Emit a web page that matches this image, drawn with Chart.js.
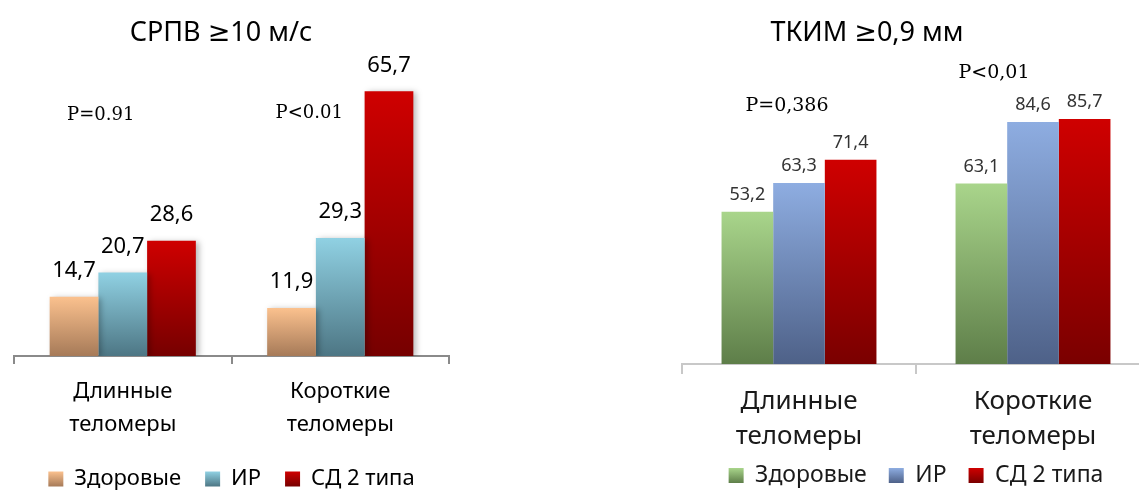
<!DOCTYPE html>
<html lang="ru">
<head>
<meta charset="utf-8">
<script src="https://cdn.jsdelivr.net/npm/chart.js@4.4.0/dist/chart.umd.min.js"></script>
<style>
  html, body { margin: 0; padding: 0; background: #fff; overflow: hidden; width: 1139px; height: 490px; }
  #leftBox { position: absolute; left: 0; top: 0; width: 450px; height: 500px; }
  #rightBox { position: absolute; left: 640px; top: 0; width: 520px; height: 497px; }
</style>
</head>
<body>
<div id="leftBox"><canvas id="pwvCanvas"></canvas></div>
<div id="rightBox"><canvas id="cimtCanvas"></canvas></div>
<script>
// categories & series
var categories = [['Длинные', 'теломеры'], ['Короткие', 'теломеры']];
var seriesNames = ['Здоровые', 'ИР', 'СД 2 типа'];

// СРПВ >=10 м/с (%)
var pwvHealthy = [14.7, 11.9];
var pwvIR = [20.7, 29.3];
var pwvDiabetes = [28.6, 65.7];
var pwvPValues = ['P=0.91', 'P<0.01'];

// ТКИМ >=0,9 мм (%)
var cimtHealthy = [53.2, 63.1];
var cimtIR = [63.3, 84.6];
var cimtDiabetes = [71.4, 85.7];
var cimtPValues = ['P=0,386', 'P<0,01'];

var sansFont = '"Noto Sans", "DejaVu Sans", sans-serif';
var serifFont = '"DejaVu Serif", "Liberation Serif", serif';

// vertical gradient per bar, light on top, dark at the base
var barGradient = function (top, bottom, mid) {
	return function (c) {
		var chart = c.chart;
		if (c.type !== 'data' || !chart.chartArea || c.raw == null) return mid;
		var y = chart.scales.y;
		var g = chart.ctx.createLinearGradient(0, y.getPixelForValue(c.raw), 0, y.getPixelForValue(0));
		g.addColorStop(0, top);
		g.addColorStop(1, bottom);
		return g;
	};
};

// title, category names, value labels over the bars, P annotations
var barTexts = {
	id: 'barTexts',
	beforeDraw: function (chart, args, opts) {
		// same light-to-dark fill for the legend squares
		var lg = chart.legend;
		if (!lg || !lg.legendItems) return;
		var lab = lg.options.labels;
		var y0 = lg.top + lab.padding + (lab.font.size - lab.boxHeight) / 2;
		lg.legendItems.forEach(function (it, i) {
			var g = chart.ctx.createLinearGradient(0, y0, 0, y0 + lab.boxHeight);
			g.addColorStop(0, opts.colors[i][0]);
			g.addColorStop(1, opts.colors[i][1]);
			it.fillStyle = g;
			it.lineWidth = 0;
			it.strokeStyle = 'rgba(0,0,0,0)';
		});
	},
	beforeDatasetsDraw: function (chart, args, opts) {
		var ctx = chart.ctx;
		ctx.save();
		if (opts.shadow) {
			ctx.shadowColor = 'rgba(0,0,0,0.28)';
			ctx.shadowBlur = 6;
			ctx.shadowOffsetX = 3;
			ctx.shadowOffsetY = 1;
		}
	},
	afterDatasetsDraw: function (chart, args, opts) {
		var ctx = chart.ctx;
		var xs = chart.scales.x, ys = chart.scales.y;
		ctx.restore();
		ctx.save();
		ctx.textAlign = 'center';
		ctx.textBaseline = 'middle';

		ctx.font = opts.titleFont;
		ctx.fillStyle = '#000';
		ctx.fillText(opts.title, chart.width / 2 + opts.titleShift, opts.titleY);

		// category names under the axis (two lines each)
		ctx.font = opts.catFont;
		ctx.fillStyle = opts.catColor;
		chart.data.labels.forEach(function (lines, j) {
			lines.forEach(function (line, k) {
				ctx.fillText(line, xs.getPixelForValue(j), xs.top + opts.catOffset + k * opts.catLine);
			});
		});

		ctx.font = opts.valueFont;
		ctx.fillStyle = opts.valueColor;
		chart.data.datasets.forEach(function (ds, i) {
			chart.getDatasetMeta(i).data.forEach(function (bar, j) {
				ctx.fillText(ds.data[j].toFixed(1).replace('.', ','), bar.x, bar.y - opts.valueGap);
			});
		});

		ctx.font = opts.pFont;
		ctx.fillStyle = '#000';
		opts.pTexts.forEach(function (t, j) {
			var px = xs.getPixelForValue(j) + opts.pShift[j];
			var py = ys.getPixelForValue(opts.pLevel[j]);
			ctx.save();
			if (opts.pClip) {
				ctx.beginPath();
				ctx.rect(0, 0, chart.width, py + opts.pClip);
				ctx.clip();
			}
			ctx.fillText(t, px, py);
			ctx.restore();
		});
		ctx.restore();
	}
};

var makeChart = function (canvasId, s) {
	return new Chart(document.getElementById(canvasId), {
		type: 'bar',
		data: {
			labels: categories,
			datasets: s.values.map(function (vals, i) {
				return {
					label: seriesNames[i],
					data: vals,
					backgroundColor: barGradient(s.colors[i][0], s.colors[i][1], s.colors[i][2]),
					borderWidth: 0,
					categoryPercentage: s.groupWidth,
					barPercentage: 1
				};
			})
		},
		options: {
			responsive: true,
			maintainAspectRatio: false,
			animation: false,
			layout: { padding: s.padding },
			scales: {
				x: {
					grid: { offset: true, drawOnChartArea: false, tickLength: s.tickLen, color: s.axisColor, lineWidth: s.axisWidth },
					border: { color: s.axisColor, width: s.axisWidth },
					ticks: { display: false },
					afterFit: function (scale) { scale.height = s.axisHeight; }
				},
				y: { display: false, min: 0, max: s.yMax }
			},
			plugins: {
				title: { display: false },
				legend: {
					position: 'bottom',
					labels: {
						boxWidth: 15,
						boxHeight: 15,
						padding: s.legendPad,
						color: s.textColor,
						font: { family: sansFont, size: s.legendSize }
					}
				},
				tooltip: { enabled: false },
				barTexts: {
					title: s.title,
					titleFont: s.titleFont,
					titleShift: s.titleShift,
					titleY: 33,
					colors: s.colors,
					catFont: s.catFont,
					catColor: s.textColor,
					catOffset: s.catOffset,
					catLine: s.catLine,
					shadow: s.shadow,
					valueFont: s.valueFont,
					valueColor: s.valueColor,
					valueGap: s.valueGap,
					pFont: s.pFont,
					pTexts: s.pTexts,
					pShift: s.pShift,
					pLevel: s.pLevel,
					pClip: s.pClip
				}
			}
		},
		plugins: [barTexts]
	});
};

makeChart('pwvCanvas', {
	title: 'СРПВ ≥10 м/с',
	titleFont: '27px ' + sansFont,
	titleShift: -4,
	values: [pwvHealthy, pwvIR, pwvDiabetes],
	colors: [['#fbc18e', '#a67a58', '#dca374'], ['#90d1e3', '#4d7684', '#72aebf'], ['#cf0000', '#760000', '#b00000']],
	shadow: true,
	groupWidth: 0.672,
	yMax: 70,
	padding: { left: 14, right: 1, top: 74, bottom: 0 },
	axisColor: '#8a8a8a',
	axisWidth: 2,
	tickLen: 8,
	axisHeight: 88,
	catFont: '22px ' + sansFont,
	catOffset: 36,
	catLine: 33,
	textColor: '#000',
	legendSize: 22,
	legendPad: 24,
	valueFont: '22px ' + sansFont,
	valueColor: '#000',
	valueGap: 26,
	pFont: '18px ' + serifFont,
	pTexts: pwvPValues,
	pShift: [-22, -31],
	pLevel: [59.7, 60.2],
	pClip: 5.5
});

makeChart('cimtCanvas', {
	title: 'ТКИМ ≥0,9 мм',
	titleFont: '27px ' + sansFont,
	titleShift: -33,
	values: [cimtHealthy, cimtIR, cimtDiabetes],
	colors: [['#a9d58b', '#5e7e49', '#86ac6b'], ['#8eade1', '#4e6188', '#7090c5'], ['#cf0000', '#7a0000', '#b00000']],
	shadow: false,
	groupWidth: 0.662,
	yMax: 100,
	padding: { left: 42, right: 10, top: 78, bottom: 0 },
	axisColor: '#c8c8c8',
	axisWidth: 2,
	tickLen: 10,
	axisHeight: 78,
	catFont: '26px ' + sansFont,
	catOffset: 38,
	catLine: 35,
	textColor: '#1a1a1a',
	legendSize: 23,
	legendPad: 22,
	valueFont: '18px ' + sansFont,
	valueColor: '#333',
	valueGap: 17,
	pFont: '19px ' + serifFont,
	pTexts: cimtPValues,
	pShift: [-12, -39],
	pLevel: [90.3, 101.8],
	pClip: 0
});
</script>
</body>
</html>
